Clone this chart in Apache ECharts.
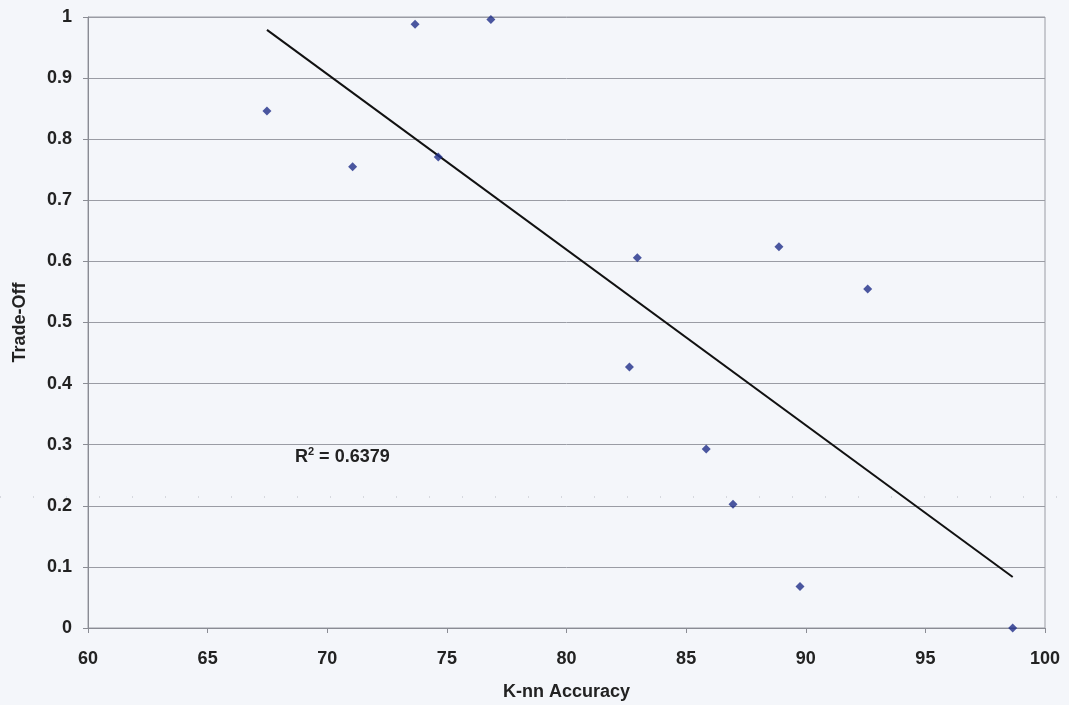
<!DOCTYPE html>
<html><head><meta charset="utf-8">
<script src="https://cdn.jsdelivr.net/npm/echarts@6/dist/echarts.min.js"></script>
<style>html,body{margin:0;padding:0;background:#f4f6fa}#c{width:1069px;height:705px}</style>
</head><body><div id="c"></div>
<script>
var accuracy = [67.48, 71.06, 73.67, 76.84, 74.64, 82.96, 82.63, 88.88, 92.59, 85.84, 86.96, 89.76, 98.65];
var tradeOff = [0.846, 0.755, 0.988, 0.996, 0.771, 0.606, 0.427, 0.624, 0.555, 0.293, 0.2025, 0.068, 0.0];
var r2Label = '0.6379';

var pts = accuracy.map(function(x, i){ return [x, tradeOff[i]]; });
// least-squares trend line over data range
var n = accuracy.length, mx = 0, my = 0;
for (var i = 0; i < n; i++) { mx += accuracy[i]; my += tradeOff[i]; }
mx /= n; my /= n;
var sxy = 0, sxx = 0;
for (i = 0; i < n; i++) { sxy += (accuracy[i]-mx)*(tradeOff[i]-my); sxx += (accuracy[i]-mx)*(accuracy[i]-mx); }
var slope = sxy / sxx, icpt = my - slope * mx;
var xmin = Math.min.apply(null, accuracy), xmax = Math.max.apply(null, accuracy);
var trend = [[xmin, icpt + slope * xmin], [xmax, icpt + slope * xmax]];

var chart = echarts.init(document.getElementById('c'));
var font = 'Liberation Sans, Arial, sans-serif';
chart.setOption({
  backgroundColor: '#f4f6fa',
  animation: false,
  grid: { left: 88, right: 24, top: 17, bottom: 77, containLabel: false, outerBoundsMode: 'none',
          show: true, borderColor: '#9a9ca4', borderWidth: 1, backgroundColor: 'transparent' },
  xAxis: {
    type: 'value', min: 60, max: 100, interval: 5,
    name: 'K-nn Accuracy', nameLocation: 'middle', nameGap: 55,
    nameTextStyle: { fontFamily: font, fontWeight: 'bold', fontSize: 18, color: '#222' },
    axisLine: { show: true, lineStyle: { color: '#8a8c94' } },
    axisTick: { show: true, length: 5, inside: false, lineStyle: { color: '#8a8c94' } },
    axisLabel: { fontFamily: font, fontWeight: 'bold', fontSize: 18, color: '#222', margin: 22 },
    splitLine: { show: false }
  },
  yAxis: {
    type: 'value', min: 0, max: 1, interval: 0.1,
    name: 'Trade-Off', nameLocation: 'middle', nameGap: 59,
    nameTextStyle: { fontFamily: font, fontWeight: 'bold', fontSize: 18, color: '#222' },
    axisLine: { show: true, lineStyle: { color: '#8a8c94' } },
    axisTick: { show: true, length: 5, lineStyle: { color: '#8a8c94' } },
    axisLabel: { fontFamily: font, fontWeight: 'bold', fontSize: 18, color: '#222', margin: 16,
      formatter: function(v){ return String(Math.round(v*10)/10); } },
    splitLine: { show: true, lineStyle: { color: '#9a9ca4', width: 1 } }
  },
  series: [
    { type: 'scatter', data: pts, symbol: 'diamond', symbolSize: 9,
      itemStyle: { color: '#1f2e88' }, z: 3 },
    { type: 'line', data: trend, symbol: 'none', lineStyle: { color: '#111', width: 2 }, z: 2 }
  ],
  graphic: [
    { type: 'text', left: 295, top: 446,
      style: { text: '{b|R}{s|2}{b| = ' + r2Label + '}',
        rich: { b: { fontFamily: font, fontWeight: 'bold', fontSize: 18, fill: '#222', verticalAlign: 'bottom' },
                s: { fontFamily: font, fontWeight: 'bold', fontSize: 11, fill: '#222', verticalAlign: 'top', padding: [0,0,9,0] } } } },
    { type: 'line', shape: { x1: 0, y1: 497, x2: 1069, y2: 497 },
      style: { stroke: '#b8bac2', lineWidth: 1, lineDash: [1, 32] }, z: 0, silent: true }
  ]
});
</script></body></html>
